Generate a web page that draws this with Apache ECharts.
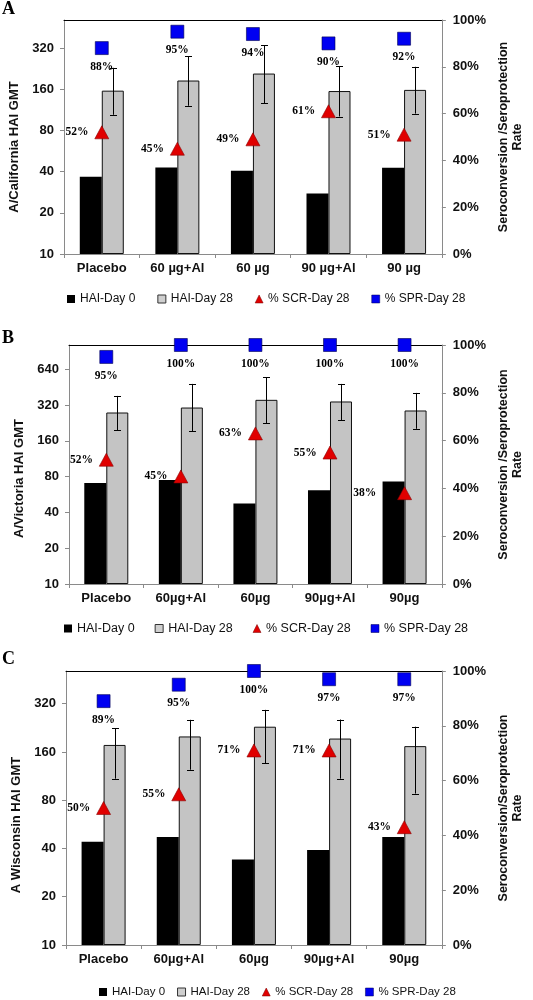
<!DOCTYPE html>
<html><head><meta charset="utf-8">
<script src="https://cdn.jsdelivr.net/npm/echarts@6/dist/echarts.min.js"></script>
<style>html,body{margin:0;padding:0;background:#fff}#c{width:533px;height:1000px}</style>
</head><body><div id="c"></div>
<script>
// ---------- DATA ----------
const categoriesA = ['Placebo', '60 µg+Al', '60 µg', '90 µg+Al', '90 µg'];
const categoriesB = ['Placebo', '60µg+Al', '60µg', '90µg+Al', '90µg'];
const categoriesC = ['Placebo', '60µg+Al', '60µg', '90µg+Al', '90µg'];

const gmtTicksA = [10, 20, 40, 80, 160, 320];
const gmtTicksB = [10, 20, 40, 80, 160, 320, 640];
const gmtTicksC = [10, 20, 40, 80, 160, 320];
const gmtMaxA = 512, gmtMaxB = 1024, gmtMaxC = 512;
const pctTicks = [0, 20, 40, 60, 80, 100];

// Panel A: A/California
const day0A = [36.6, 42.9, 40.5, 27.7, 42.6];
const day28A = [156, 185, 208, 155, 158];
const day28LowA = [104, 121, 126, 101, 106];
const day28HighA = [229, 278, 336, 236, 233];
const scrA = [52, 45, 49, 61, 51];
const sprA = [88, 95, 94, 90, 92];

// Panel B: A/Victoria
const day0B = [70.6, 74.8, 47.6, 61.6, 72.9];
const day28B = [277, 305, 354, 343, 288];
const day28LowB = [196, 193, 225, 239, 202];
const day28HighB = [382, 482, 548, 482, 405];
const scrB = [52, 45, 63, 55, 38];
const sprB = [95, 100, 100, 100, 100];

// Panel C: A Wisconsin
const day0C = [44.1, 47.2, 34.2, 39.1, 47.2];
const day28C = [177, 200, 230, 194, 174];
const day28LowC = [109, 124, 136, 109, 88];
const day28HighC = [225, 254, 293, 255, 230];
const scrC = [50, 55, 71, 71, 43];
const sprC = [89, 95, 100, 97, 97];

// ---------- STYLE / LAYOUT ----------
const SANS = 'Liberation Sans, Arial, sans-serif';
const SERIF = 'Liberation Serif, Times New Roman, serif';
const AXIS = '#8a8a8a';
const BAR_W = 22;
const BLUE = '#0000f2';
const lg = v => Math.log2(v / 10);

const panels = [
  {letter: 'A', cats: categoriesA, ticks: gmtTicksA, max: gmtMaxA,
   d0: day0A, d28: day28A, lo: day28LowA, hi: day28HighA, scr: scrA, spr: sprA,
   grid: {left: 63, top: 20, width: 389, height: 234},
   yName: 'A/California HAI GMT', yShift: 10, yGap: 43,
   rName: 'Seroconversion /Seroprotection\nRate',
   letterTop: 0, legend: {left: 67, top: 293, itemGap: 22, fontSize: 12},
   scrShift: {}},
  {letter: 'B', cats: categoriesB, ticks: gmtTicksB, max: gmtMaxB,
   d0: day0B, d28: day28B, lo: day28LowB, hi: day28HighB, scr: scrB, spr: sprB,
   grid: {left: 69, top: 345, width: 383, height: 239},
   yName: 'A/Victoria HAI GMT', yShift: 14, yGap: 43,
   rName: 'Seroconversion /Seroprotection\nRate',
   letterTop: 329, legend: {left: 64, top: 622, itemGap: 20, fontSize: 12.5},
   scrShift: {4: -15}},
  {letter: 'C', cats: categoriesC, ticks: gmtTicksC, max: gmtMaxC,
   d0: day0C, d28: day28C, lo: day28LowC, hi: day28HighC, scr: scrC, spr: sprC,
   grid: {left: 66, top: 671, width: 393, height: 274},
   yName: 'A Wisconsin HAI GMT', yShift: 17, yGap: 38,
   rName: 'Seroconversion/Seroprotection\nRate',
   letterTop: 650, legend: {left: 99, top: 986, itemGap: 12, fontSize: 11.5},
   scrShift: {}}
];

const legendItems = [
  {name: 'HAI-Day 0', icon: 'rect', itemStyle: {color: '#000'}},
  {name: 'HAI-Day 28', icon: 'rect', itemStyle: {color: '#cfcfcf', borderColor: '#333', borderWidth: 1}},
  {name: '% SCR-Day 28', icon: 'triangle', itemStyle: {color: '#e00000', borderColor: '#700', borderWidth: 0.5}},
  {name: '% SPR-Day 28', icon: 'rect', itemStyle: {color: BLUE, borderColor: '#000050', borderWidth: 0.5}}
];

function errRender(params, api) {
  const x = api.value(0);
  const pLo = api.coord([x, api.value(1)]);
  const pHi = api.coord([x, api.value(2)]);
  const cx = Math.round(pLo[0] + BAR_W / 2) + 0.5;
  const cap = 3.5;
  const st = {stroke: '#000', lineWidth: 1};
  return {type: 'group', children: [
    {type: 'line', shape: {x1: cx, y1: pLo[1], x2: cx, y2: pHi[1]}, style: st},
    {type: 'line', shape: {x1: cx - cap, y1: Math.round(pHi[1]) + 0.5, x2: cx + cap, y2: Math.round(pHi[1]) + 0.5}, style: st},
    {type: 'line', shape: {x1: cx - cap, y1: Math.round(pLo[1]) + 0.5, x2: cx + cap, y2: Math.round(pLo[1]) + 0.5}, style: st}
  ]};
}

const option = {
  animation: false,
  backgroundColor: '#fff',
  title: [], grid: [], xAxis: [], yAxis: [], legend: [], series: []
};

const labelFont = {fontFamily: SANS, fontWeight: 'bold', fontSize: 13, color: '#111'};
const pctLabelFont = {fontFamily: SERIF, fontWeight: 'bold', fontSize: 11.5, color: '#000'};

panels.forEach((p, g) => {
  option.title.push({text: p.letter, left: 2, top: p.letterTop, padding: 0,
    textStyle: {fontFamily: SERIF, fontWeight: 'bold', fontSize: 18, color: '#000'}});
  option.grid.push(Object.assign({containLabel: false}, p.grid));
  option.xAxis.push({type: 'category', gridIndex: g, data: p.cats, position: 'bottom',
    axisLine: {onZero: false, lineStyle: {color: AXIS}}, axisTick: {show: true, length: 4, lineStyle: {color: AXIS}},
    axisLabel: Object.assign({margin: 8, interval: 0}, labelFont), splitLine: {show: false}});
  option.xAxis.push({type: 'category', gridIndex: g, data: p.cats, position: 'top',
    axisLine: {onZero: false, lineStyle: {color: '#000'}}, axisTick: {show: false}, axisLabel: {show: false}, splitLine: {show: false}});
  const tickVals = p.ticks.map(lg);
  option.yAxis.push({type: 'value', gridIndex: g, position: 'left', min: 0, max: lg(p.max), interval: 1,
    axisLine: {show: true, onZero: false, lineStyle: {color: AXIS}},
    axisTick: {show: true, length: 4, lineStyle: {color: AXIS}, customValues: tickVals},
    axisLabel: Object.assign({margin: 10, customValues: tickVals,
      formatter: v => String(Math.round(10 * Math.pow(2, v)))}, labelFont),
    splitLine: {show: false},
    name: p.yName, nameLocation: 'middle', nameGap: p.yGap,
    nameTextStyle: Object.assign({padding: [0, p.yShift * 2, 0, 0]}, labelFont)});
  option.yAxis.push({type: 'value', gridIndex: g, position: 'right', min: pctTicks[0], max: pctTicks[pctTicks.length - 1], interval: 20,
    axisLine: {show: true, onZero: false, lineStyle: {color: AXIS}},
    axisTick: {show: true, length: 4, lineStyle: {color: AXIS}},
    axisLabel: Object.assign({margin: 11, formatter: '{value}%'}, labelFont),
    splitLine: {show: false},
    name: p.rName, nameLocation: 'middle', nameGap: 55,
    nameTextStyle: Object.assign({}, labelFont, {fontSize: 12.5, lineHeight: 14, align: 'center'})});
  option.legend.push({data: legendItems, left: p.legend.left, top: p.legend.top, orient: 'horizontal',
    itemGap: p.legend.itemGap, itemWidth: 8, itemHeight: 8, selectedMode: false, padding: 0,
    textStyle: {fontFamily: SANS, fontSize: p.legend.fontSize, color: '#111'}});

  const xi = 2 * g, yl = 2 * g, yr = 2 * g + 1;
  option.series.push({type: 'bar', name: 'HAI-Day 0', xAxisIndex: xi, yAxisIndex: yl,
    data: p.d0.map(lg), barWidth: BAR_W, barGap: '0%', itemStyle: {color: '#000'}, z: 2});
  option.series.push({type: 'bar', name: 'HAI-Day 28', xAxisIndex: xi, yAxisIndex: yl,
    data: p.d28.map(lg), barWidth: BAR_W, barGap: '0%',
    itemStyle: {color: '#c4c4c4', borderColor: '#111', borderWidth: 1}, z: 2});
  option.series.push({type: 'custom', name: 'err', xAxisIndex: xi, yAxisIndex: yl,
    data: p.lo.map((v, i) => [i, lg(v), lg(p.hi[i])]), encode: {x: 0, y: [1, 2]},
    renderItem: errRender, z: 3, clip: false, silent: true});
  option.series.push({type: 'scatter', name: '% SCR-Day 28', xAxisIndex: xi, yAxisIndex: yr,
    symbol: 'triangle', symbolSize: [14, 13], clip: false, z: 5,
    itemStyle: {color: '#e00000', borderColor: '#8a0000', borderWidth: 0.6, opacity: 1},
    label: Object.assign({show: true, position: 'left', distance: 6, formatter: q => q.value + '%'}, pctLabelFont),
    data: p.scr.map((v, i) => p.scrShift[i] ? {value: v, label: {offset: [p.scrShift[i], 0]}} : v)});
  option.series.push({type: 'scatter', name: '% SPR-Day 28', xAxisIndex: xi, yAxisIndex: yr,
    symbol: 'rect', symbolSize: 13, clip: false, z: 5,
    itemStyle: {color: BLUE, borderColor: '#000050', borderWidth: 0.6, opacity: 1},
    label: Object.assign({show: true, position: 'bottom', distance: 6, formatter: q => q.value + '%'}, pctLabelFont),
    data: p.spr});
});

const chart = echarts.init(document.getElementById('c'), null, {renderer: 'canvas'});
chart.setOption(option);
</script>
</body></html>
